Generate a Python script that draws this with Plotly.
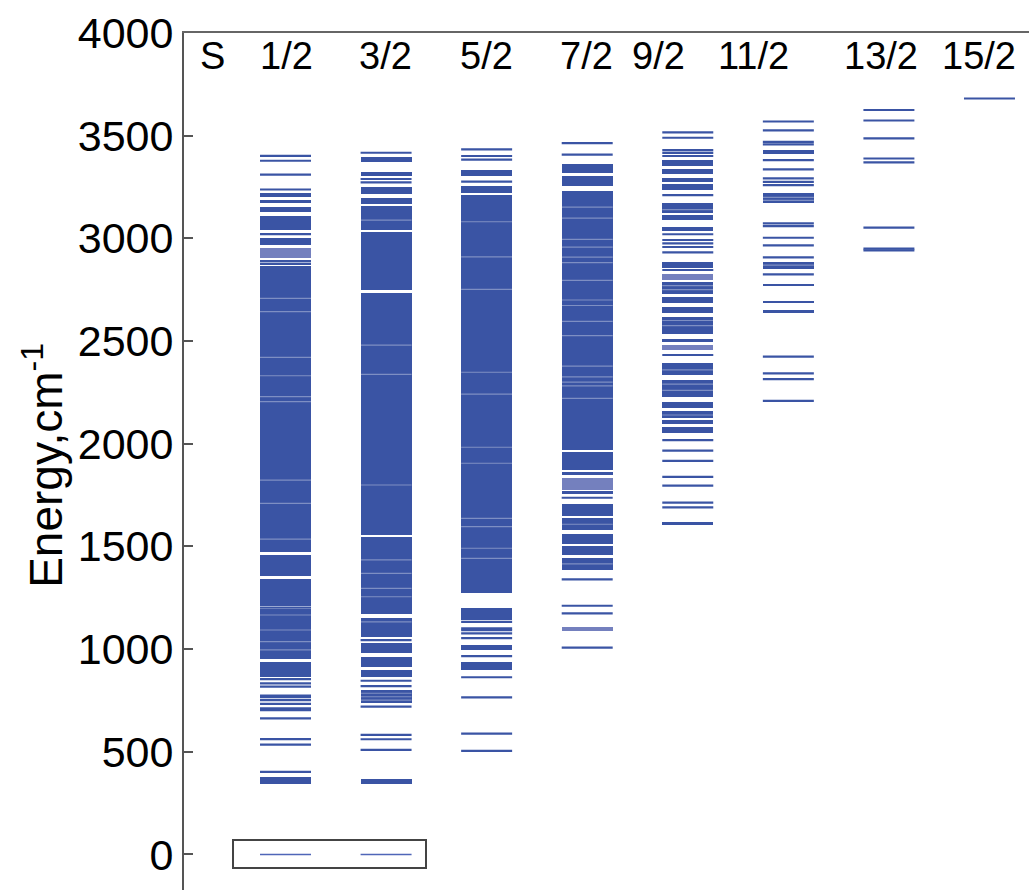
import plotly.graph_objects as go

# ---------------- data (energies in cm^-1) ----------------
S_LABELS = ["1/2", "3/2", "5/2", "7/2", "9/2", "11/2", "13/2", "15/2"]

# individual levels drawn as single lines
levels_1_2 = [3402, 3378, 3310, 3238, 3021, 2889, 2876, 1202, 1190, 854, 833, 817,
              773, 766, 752, 733, 712, 703, 663, 562, 535, 402]
levels_3_2 = [3417, 3289, 3273, 1044, 846, 820, 720, 582, 561, 509]
levels_5_2 = [3433, 3401, 3383, 3276, 1133, 1101, 1092, 1077, 1053, 966, 863, 765, 588, 504]
levels_7_2 = [3464, 3408, 1737, 1340, 1211, 1174, 1007]
levels_9_2 = [3516, 3490, 3430, 3416, 3401, 3211, 3020, 2992, 2976, 2958, 2932, 2846,
              2432, 2018, 1966, 1917, 1839, 1796, 1713, 1690]
levels_11_2 = [3569, 3526, 3470, 3458, 3381, 3336, 3292, 3275, 3259, 3073, 3060, 3003,
               2966, 2907, 2825, 2424, 2343, 2315, 2209]
levels_13_2 = [3625, 3574, 3487, 3389, 3370, 3052, 2950, 2942]
levels_15_2 = [3681]

# ranges so dense that the levels merge into solid blocks (low, high)
bands_1_2 = [(3203, 3219), (3173, 3186), (3130, 3154), (3040, 3109), (2967, 3000),
             (1474, 2866), (1356, 1460), (1211, 1343), (950, 1185), (863, 936), (345, 378)]
bands_3_2 = [(3370, 3397), (3303, 3324), (3216, 3248), (3167, 3198), (3040, 3157),
             (2748, 3032), (1555, 2735), (1171, 1544), (1057, 1150), (980, 1028),
             (914, 963), (863, 898), (736, 801), (345, 368)]
bands_5_2 = [(3305, 3333), (3219, 3255), (1272, 3210), (1142, 1202), (994, 1022), (898, 939)]
bands_7_2 = [(3317, 3360), (3253, 3305), (1969, 3230), (1872, 1961), (1848, 1864),
             (1755, 1771), (1648, 1705), (1580, 1637), (1512, 1560), (1458, 1502), (1385, 1442)]
bands_9_2 = [(3353, 3381), (3312, 3336), (3276, 3292), (3235, 3263), (3125, 3170),
             (3089, 3113), (3036, 3057), (2854, 2886), (2727, 2786), (2683, 2713),
             (2638, 2667), (2533, 2618), (2494, 2511), (2334, 2391), (2229, 2310),
             (2172, 2205), (2127, 2159), (2094, 2115), (2051, 2083), (1603, 1617)]
bands_11_2 = [(3410, 3430), (3170, 3219), (2849, 2886), (2767, 2779), (2686, 2697), (2637, 2649)]
bands_13_2 = []
bands_15_2 = []

# paler (less dense) blocks
pale_1_2 = [(2903, 2954)]
pale_3_2 = []
pale_5_2 = []
pale_7_2 = [(1775, 1832), (1090, 1106)]
pale_9_2 = [(2797, 2826), (2456, 2481)]
pale_11_2 = []
pale_13_2 = []
pale_15_2 = []

# faint gaps visible inside the solid blocks
gaps_1_2 = [2708, 2643, 2421, 2331, 2229, 2205, 1823, 1710, 1536, 1466, 1166, 1093, 1036, 996]
gaps_3_2 = [3089, 2480, 2338, 1799, 1434, 1369, 1296, 1255, 1133, 785, 768, 752]
gaps_5_2 = [3081, 2910, 2752, 2348, 2242, 1983, 1905, 1637, 1596, 1491, 1442]
gaps_7_2 = [3152, 3099, 2995, 2957, 2909, 2882, 2795, 2700, 2673, 2596, 2526, 2378,
            2326, 2300, 2282, 2221, 1608, 1415]
gaps_9_2 = [3140, 2770, 2750, 2600, 2575, 2360, 2290, 2260, 2140]
gaps_11_2 = [3200, 3185, 2870]
gaps_13_2 = []
gaps_15_2 = []

# ground states (framed)
ground_1_2 = [0]
ground_3_2 = [0]

# ---------------- assemble ----------------
columns = [
    (levels_1_2, bands_1_2, pale_1_2, gaps_1_2, ground_1_2),
    (levels_3_2, bands_3_2, pale_3_2, gaps_3_2, ground_3_2),
    (levels_5_2, bands_5_2, pale_5_2, gaps_5_2, []),
    (levels_7_2, bands_7_2, pale_7_2, gaps_7_2, []),
    (levels_9_2, bands_9_2, pale_9_2, gaps_9_2, []),
    (levels_11_2, bands_11_2, pale_11_2, gaps_11_2, []),
    (levels_13_2, bands_13_2, pale_13_2, gaps_13_2, []),
    (levels_15_2, bands_15_2, pale_15_2, gaps_15_2, []),
]

BLUE = "#3A54A4"
PALE = "#7480BE"
HALF = 0.2535
FONT = "Arial, Liberation Sans, sans-serif"

fig = go.Figure()


def seg(xc, values):
    xs, ys = [], []
    for e in values:
        xs += [xc - HALF, xc + HALF, None]
        ys += [e, e, None]
    return xs, ys


for i, (lv, bd, pl, gp, gr) in enumerate(columns):
    xc = i + 1
    for blocks, col in ((bd, BLUE), (pl, PALE)):
        if blocks:
            fig.add_trace(go.Bar(
                x=[xc] * len(blocks), base=[b[0] for b in blocks],
                y=[b[1] - b[0] for b in blocks], width=2 * HALF,
                marker=dict(color=col, line=dict(width=0)), hoverinfo="skip",
                showlegend=False))
    xs, ys = seg(xc, lv)
    fig.add_trace(go.Scatter(x=xs, y=ys, mode="lines", line=dict(color=BLUE, width=2.2),
                             hoverinfo="skip", showlegend=False))
    if gp:
        xs, ys = seg(xc, gp)
        fig.add_trace(go.Scatter(x=xs, y=ys, mode="lines",
                                 line=dict(color="rgba(255,255,255,0.35)", width=1.2),
                                 hoverinfo="skip", showlegend=False))
    if gr:
        xs, ys = seg(xc, gr)
        fig.add_trace(go.Scatter(x=xs, y=ys, mode="lines",
                                 line=dict(color="#4F66B8", width=1.4),
                                 hoverinfo="skip", showlegend=False))

# ---------------- layout ----------------
LABEL_X = [1.005, 1.999, 3.0, 3.99, 4.71, 5.65, 6.92, 7.90]
LABEL_Y = 0.973
annotations = [dict(x=0.279, y=LABEL_Y, xref="x", yref="paper", text="S", showarrow=False,
                    xanchor="center", yanchor="middle",
                    font=dict(size=38, family=FONT, color="black"))]
for lab, lx in zip(S_LABELS, LABEL_X):
    annotations.append(dict(x=lx, y=LABEL_Y, xref="x", yref="paper", text=lab, showarrow=False,
                            xanchor="center", yanchor="middle",
                            font=dict(size=38, family=FONT, color="black")))
annotations.append(dict(x=-0.167, y=0.496, xref="paper", yref="paper",
                        text="Energy,cm<sup>-1</sup>", textangle=-90, showarrow=False,
                        xanchor="center", yanchor="middle",
                        font=dict(size=46, family=FONT, color="black")))

GROUND_BOX = dict(x0=0.478, x1=2.397, y0=-66, y1=71)

fig.update_layout(
    width=1029, height=890,
    margin=dict(l=184, r=0, t=33, b=0, autoexpand=False),
    paper_bgcolor="white", plot_bgcolor="white",
    barmode="overlay", bargap=0,
    showlegend=False,
    annotations=annotations,
    shapes=[dict(type="rect", xref="x", yref="y", line=dict(color="#444444", width=2),
                 fillcolor="rgba(0,0,0,0)", **GROUND_BOX)],
    xaxis=dict(range=[-0.0093, 8.393], side="top", showline=True, linecolor="#666666",
               linewidth=2, showticklabels=False, ticks="", showgrid=False, zeroline=False,
               automargin=False),
    yaxis=dict(range=[-173, 4000], tickvals=list(range(0, 4001, 500)), ticks="inside",
               ticklen=9, tickwidth=2, tickcolor="#555555", showline=True,
               linecolor="#555555", linewidth=2, showgrid=False, zeroline=False,
               automargin=False,
               tickfont=dict(size=43, family=FONT, color="black")),
)

fig.write_html("out.html", config={"displayModeBar": False},
               post_script="document.body.style.margin='0px';document.body.style.overflow='hidden';")
